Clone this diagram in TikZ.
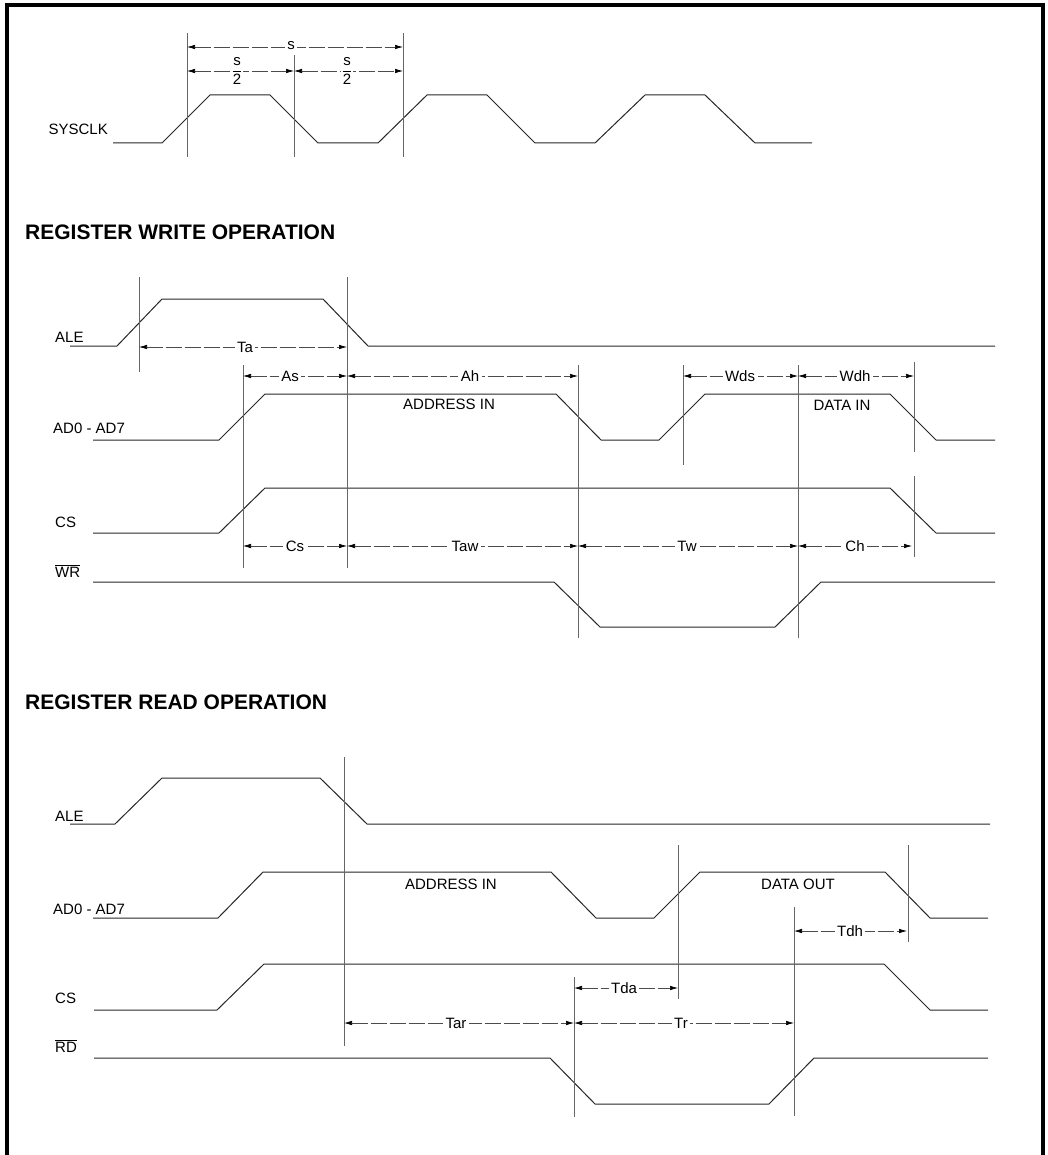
\documentclass[tikz,border=0pt]{standalone}
\usepackage{fontspec}
\setmainfont{Liberation Sans}
\usetikzlibrary{arrows.meta}
\tikzset{
  sig/.style={line width=1pt, black!85, line join=round},
  guide/.style={line width=0.7pt, black!60},
  dimline/.style={line width=0.7pt, black!70, dash pattern=on 16pt off 3pt,
    {Latex[length=8pt,width=4.5pt,black]}-{Latex[length=8pt,width=4.5pt,black]}},
  lbl/.style={font=\fontsize{15}{16}\selectfont, inner sep=0pt},
  dlbl/.style={font=\fontsize{15}{16}\selectfont, fill=white, inner sep=2.5pt},
  head/.style={font=\bfseries\fontsize{21}{22}\selectfont, anchor=west, inner sep=0pt},
  frameline/.style={line width=4pt, black}
}
\begin{document}
\begin{tikzpicture}[x=1pt,y=-1pt]
\useasboundingbox (0,0) rectangle (1048,1155);
% frame
\draw[frameline] (7,1155) -- (7,5) -- (1043,5) -- (1043,1155);

% ================= SYSCLK =================
\node[lbl, anchor=east] (sysclk) at (108,129) {SYSCLK};
\draw[sig] (113,143) -- (162,143) -- (210,95) -- (270,95) -- (318,143) -- (378,143)
  -- (427,95) -- (487,95) -- (535,143) -- (595,143) -- (645,95) -- (705,95) -- (755,143) -- (812,143);
\coordinate (g1t) at (187,33);  \coordinate (g1b) at (187,157);
\coordinate (g2t) at (294,55);  \coordinate (g2b) at (294,157);
\coordinate (g3t) at (403,33);  \coordinate (g3b) at (403,157);
\draw[guide] (g1t) -- (g1b);
\draw[guide] (g2t) -- (g2b);
\draw[guide] (g3t) -- (g3b);
\coordinate (sA) at (187,47); \coordinate (sB) at (403,47);
\draw[dimline] (sA) -- (sB);
\node[dlbl] (slbl) at (291,46) {s};
\coordinate (h1) at (187,71); \coordinate (h2) at (294,71); \coordinate (h3) at (403,71);
\draw[dimline] (h1) -- (h2);
\draw[dimline] (h2) -- (h3);
\node[dlbl, inner sep=1pt] (half1) at (237,71) {$\displaystyle\frac{\mbox{s}}{\mbox{2}}$};
\node[dlbl, inner sep=1pt] (half2) at (347,71) {$\displaystyle\frac{\mbox{s}}{\mbox{2}}$};

% ================= WRITE =================
\node[head] (hw) at (25,232) {REGISTER WRITE OPERATION};

\node[lbl, anchor=west] (wale) at (55,337) {ALE};
\node[lbl, anchor=west] (wad) at (53,428) {AD0 - AD7};
\node[lbl, anchor=west] (wcs) at (55,522) {CS};
\node[lbl, anchor=west] (wwr) at (55,571) {$\overline{\mbox{WR}}$};

% waveforms
\draw[sig] (70,346) -- (117,346) -- (162,299) -- (323,299) -- (368,346) -- (995,346);
\draw[sig] (93,440) -- (219,440) -- (265,394) -- (556,394) -- (601,440) -- (659,440)
  -- (705,394) -- (890,394) -- (936,440) -- (995,440);
\draw[sig] (93,533) -- (219,533) -- (265,488) -- (890,488) -- (936,533) -- (995,533);
\draw[sig] (93,582) -- (554,582) -- (600,627) -- (775,627) -- (821,582) -- (995,582);

% guides
\draw[guide] (139,277) -- (139,372);
\draw[guide] (347,277) -- (347,568);
\draw[guide] (243,365) -- (243,568);
\draw[guide] (578,365) -- (578,638);
\draw[guide] (683,365) -- (683,465);
\draw[guide] (798,365) -- (798,638);
\draw[guide] (914,362) -- (914,452);
\draw[guide] (914,476) -- (914,557);

% dimensions
\coordinate (ta1) at (139,347); \coordinate (ta2) at (347,347);
\draw[dimline] (ta1) -- (ta2); \node[dlbl] (ta) at (245,347) {Ta};
\coordinate (a1) at (243,376); \coordinate (a2) at (347,376); \coordinate (a3) at (578,376);
\coordinate (a4) at (683,376); \coordinate (a5) at (798,376); \coordinate (a6) at (914,376);
\draw[dimline] (a1) -- (a2); \node[dlbl] (as) at (290,376) {As};
\draw[dimline] (a2) -- (a3); \node[dlbl] (ah) at (470,376) {Ah};
\draw[dimline] (a4) -- (a5); \node[dlbl] (wds) at (740,376) {Wds};
\draw[dimline] (a5) -- (a6); \node[dlbl] (wdh) at (855,376) {Wdh};
\coordinate (c1) at (243,546); \coordinate (c2) at (347,546); \coordinate (c3) at (578,546);
\coordinate (c4) at (798,546); \coordinate (c5) at (912,546);
\draw[dimline] (c1) -- (c2); \node[dlbl] (cs) at (295,546) {Cs};
\draw[dimline] (c2) -- (c3); \node[dlbl] (taw) at (465,546) {Taw};
\draw[dimline] (c3) -- (c4); \node[dlbl] (tw) at (687,546) {Tw};
\draw[dimline] (c4) -- (c5); \node[dlbl] (ch) at (855,546) {Ch};

\node[lbl] (wadr) at (449,404) {ADDRESS IN};
\node[lbl] (wdat) at (842,405) {DATA IN};

% ================= READ =================
\node[head] (hr) at (25,702) {REGISTER READ OPERATION};

\node[lbl, anchor=west] (rale) at (55,816) {ALE};
\node[lbl, anchor=west] (rad) at (53,909) {AD0 - AD7};
\node[lbl, anchor=west] (rcs) at (55,998) {CS};
\node[lbl, anchor=west] (rrd) at (55,1046) {$\overline{\mbox{RD}}$};

\draw[sig] (70,824) -- (115,824) -- (162,778) -- (320,778) -- (367,824) -- (990,824);
\draw[sig] (93,918) -- (218,918) -- (263,872) -- (551,872) -- (596,918) -- (654,918)
  -- (700,872) -- (885,872) -- (930,918) -- (988,918);
\draw[sig] (94,1010) -- (217,1010) -- (264,964) -- (884,964) -- (930,1010) -- (988,1010);
\draw[sig] (94,1058) -- (550,1058) -- (595,1104) -- (769,1104) -- (814,1058) -- (988,1058);

\draw[guide] (344,757) -- (344,1046);
\draw[guide] (678,845) -- (678,999);
\draw[guide] (908,845) -- (908,942);
\draw[guide] (794,907) -- (794,1116);
\draw[guide] (574,977) -- (574,1117);

\coordinate (td1) at (794,931); \coordinate (td2) at (907,931);
\draw[dimline] (td1) -- (td2); \node[dlbl] (tdh) at (850,931) {Tdh};
\coordinate (da1) at (574,988); \coordinate (da2) at (678,988);
\draw[dimline] (da1) -- (da2); \node[dlbl] (tda) at (624,988) {Tda};
\coordinate (r1) at (344,1023); \coordinate (r2) at (574,1023); \coordinate (r3) at (794,1023);
\draw[dimline] (r1) -- (r2); \node[dlbl] (tar) at (456,1023) {Tar};
\draw[dimline] (r2) -- (r3); \node[dlbl] (tr) at (681,1023) {Tr};

\node[lbl] (radr) at (451,884) {ADDRESS IN};
\node[lbl] (rdat) at (798,884) {DATA OUT};
\end{tikzpicture}
\end{document}
